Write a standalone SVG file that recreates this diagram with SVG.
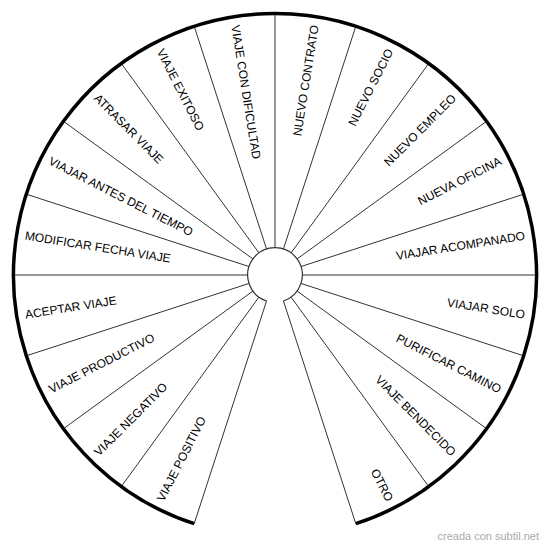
<svg xmlns="http://www.w3.org/2000/svg" width="550" height="547" viewBox="0 0 550 547">
<style>
.bg{fill:#ffffff}
.spoke{stroke:#333333;stroke-width:1;fill:none}
.rim{stroke:#000000;stroke-width:3.5;fill:none}
.hub{stroke:#333333;stroke-width:1.2;fill:none}
.lbl{font-family:"Liberation Sans",Arial,sans-serif;font-size:12px;fill:#000000}
.r{text-anchor:end}
.l{text-anchor:start}
.wm{font-family:"Liberation Sans",Arial,sans-serif;font-size:11px;fill:#aaaaaa}
</style>
<rect class="bg" x="0" y="0" width="550" height="547"/>
<g id="connectors">
<line class="spoke" x1="275" y1="247.7" x2="275" y2="13.5"/>
<line class="spoke" x1="283.44" y1="249.04" x2="355.81" y2="26.30"/>
<line class="spoke" x1="291.05" y1="252.91" x2="428.71" y2="63.44"/>
<line class="spoke" x1="297.09" y1="258.95" x2="486.56" y2="121.29"/>
<line class="spoke" x1="300.96" y1="266.56" x2="523.70" y2="194.19"/>
<line class="spoke" x1="302.3" y1="275" x2="536.5" y2="275"/>
<line class="spoke" x1="300.96" y1="283.44" x2="523.70" y2="355.81"/>
<line class="spoke" x1="297.09" y1="291.05" x2="486.56" y2="428.71"/>
<line class="spoke" x1="291.05" y1="297.09" x2="428.71" y2="486.56"/>
<line class="spoke" x1="283.44" y1="300.96" x2="355.81" y2="523.70"/>
<line class="spoke" x1="266.56" y1="300.96" x2="194.19" y2="523.70"/>
<line class="spoke" x1="258.95" y1="297.09" x2="121.29" y2="486.56"/>
<line class="spoke" x1="252.91" y1="291.05" x2="63.44" y2="428.71"/>
<line class="spoke" x1="249.04" y1="283.44" x2="26.30" y2="355.81"/>
<line class="spoke" x1="247.7" y1="275" x2="13.5" y2="275"/>
<line class="spoke" x1="249.04" y1="266.56" x2="26.30" y2="194.19"/>
<line class="spoke" x1="252.91" y1="258.95" x2="63.44" y2="121.29"/>
<line class="spoke" x1="258.95" y1="252.91" x2="121.29" y2="63.44"/>
<line class="spoke" x1="266.56" y1="249.04" x2="194.19" y2="26.30"/>
</g>
<g id="hub">
<path class="hub" d="M266.56,300.96 A27.3,27.3 0 1 1 283.44,300.96"/>
</g>
<g id="rim">
<path class="rim" d="M194.19,523.70 A261.5,261.5 0 1 1 355.81,523.70"/>
</g>
<g id="seg-nuevo-contrato"><text class="lbl r" x="528" y="275" dy=".35em" transform="rotate(-81 275 275)">NUEVO CONTRATO</text></g>
<g id="seg-nuevo-socio"><text class="lbl r" x="528" y="275" dy=".35em" transform="rotate(-63 275 275)">NUEVO SOCIO</text></g>
<g id="seg-nuevo-empleo"><text class="lbl r" x="528" y="275" dy=".35em" transform="rotate(-45 275 275)">NUEVO EMPLEO</text></g>
<g id="seg-nueva-oficina"><text class="lbl r" x="528" y="275" dy=".35em" transform="rotate(-27 275 275)">NUEVA OFICINA</text></g>
<g id="seg-viajar-acompanado"><text class="lbl r" x="528" y="275" dy=".35em" transform="rotate(-9 275 275)">VIAJAR ACOMPANADO</text></g>
<g id="seg-viajar-solo"><text class="lbl r" x="528" y="275" dy=".35em" transform="rotate(9 275 275)">VIAJAR SOLO</text></g>
<g id="seg-purificar-camino"><text class="lbl r" x="528" y="275" dy=".35em" transform="rotate(27 275 275)">PURIFICAR CAMINO</text></g>
<g id="seg-viaje-bendecido"><text class="lbl r" x="528" y="275" dy=".35em" transform="rotate(45 275 275)">VIAJE BENDECIDO</text></g>
<g id="seg-otro"><text class="lbl r" x="528" y="275" dy=".35em" transform="rotate(63 275 275)">OTRO</text></g>
<g id="seg-viaje-positivo"><text class="lbl l" x="22" y="275" dy=".35em" transform="rotate(-63 275 275)">VIAJE POSITIVO</text></g>
<g id="seg-viaje-negativo"><text class="lbl l" x="22" y="275" dy=".35em" transform="rotate(-45 275 275)">VIAJE NEGATIVO</text></g>
<g id="seg-viaje-productivo"><text class="lbl l" x="22" y="275" dy=".35em" transform="rotate(-27 275 275)">VIAJE PRODUCTIVO</text></g>
<g id="seg-aceptar-viaje"><text class="lbl l" x="22" y="275" dy=".35em" transform="rotate(-9 275 275)">ACEPTAR VIAJE</text></g>
<g id="seg-modificar-fecha-viaje"><text class="lbl l" x="22" y="275" dy=".35em" transform="rotate(9 275 275)">MODIFICAR FECHA VIAJE</text></g>
<g id="seg-viajar-antes-del-tiempo"><text class="lbl l" x="22" y="275" dy=".35em" transform="rotate(27 275 275)">VIAJAR ANTES DEL TIEMPO</text></g>
<g id="seg-atrasar-viaje"><text class="lbl l" x="22" y="275" dy=".35em" transform="rotate(45 275 275)">ATRASAR VIAJE</text></g>
<g id="seg-viaje-exitoso"><text class="lbl l" x="22" y="275" dy=".35em" transform="rotate(63 275 275)">VIAJE EXITOSO</text></g>
<g id="seg-viaje-con-dificultad"><text class="lbl l" x="22" y="275" dy=".35em" transform="rotate(81 275 275)">VIAJE CON DIFICULTAD</text></g>
<text class="wm" x="539" y="540" text-anchor="end">creada con subtil.net</text>
</svg>
